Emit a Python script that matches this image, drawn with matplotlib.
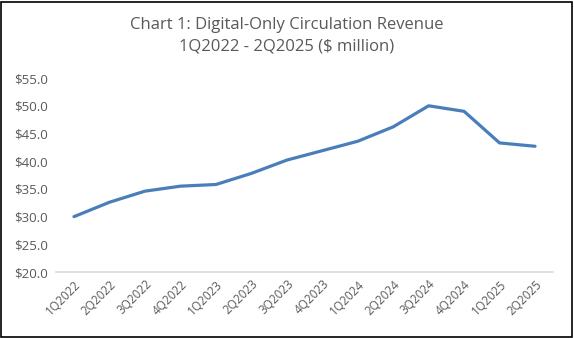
import matplotlib
matplotlib.use("Agg")
import matplotlib.pyplot as plt
from matplotlib.patches import Rectangle

quarters = ["1Q2022", "2Q2022", "3Q2022", "4Q2022", "1Q2023", "2Q2023", "3Q2023",
            "4Q2023", "1Q2024", "2Q2024", "3Q2024", "4Q2024", "1Q2025", "2Q2025"]
revenue = [30.0, 32.6, 34.6, 35.5, 35.8, 37.8, 40.2, 41.9, 43.6, 46.2, 50.0, 49.0, 43.3, 42.7]
yticks = [20, 25, 30, 35, 40, 45, 50, 55]

plt.rcParams['font.family'] = ['Open Sans', 'DejaVu Sans']
gray = '#595959'

fig = plt.figure(figsize=(5.74, 3.38), dpi=100)
ax = fig.add_axes([0.098, 0.195, 0.865, 0.574])
x = list(range(len(quarters)))
ax.plot(x, revenue, color='#4A7EBB', linewidth=2.3, solid_capstyle='round', solid_joinstyle='round')
ax.set_xlim(-0.5, len(quarters) - 0.5)
ax.set_ylim(20, 55)
ax.set_yticks(yticks)
ax.set_yticklabels([f"${v:.1f}" for v in yticks], color=gray, fontsize=9.5)
ax.set_xticks(x)
ax.set_xticklabels(quarters, rotation=45, ha='right', rotation_mode='anchor', color=gray, fontsize=8.5)
ax.tick_params(axis='both', length=0, pad=4)
ax.tick_params(axis='y', pad=6)
for s in ['top', 'right', 'left']:
    ax.spines[s].set_visible(False)
ax.spines['bottom'].set_color('#D9D9D9')
ax.spines['bottom'].set_linewidth(1.2)
ax.set_facecolor('none')

fig.text(0.5, 0.925, "Chart 1: Digital-Only Circulation Revenue", ha='center', va='center', fontsize=12, color=gray)
fig.text(0.5, 0.862, "1Q2022 - 2Q2025 ($ million)", ha='center', va='center', fontsize=12, color=gray)

fig.patches.append(Rectangle((0.002, 0.004), 0.994, 0.99, transform=fig.transFigure,
                             fill=False, edgecolor='black', linewidth=1.2))
fig.savefig("out.png", dpi=100)
